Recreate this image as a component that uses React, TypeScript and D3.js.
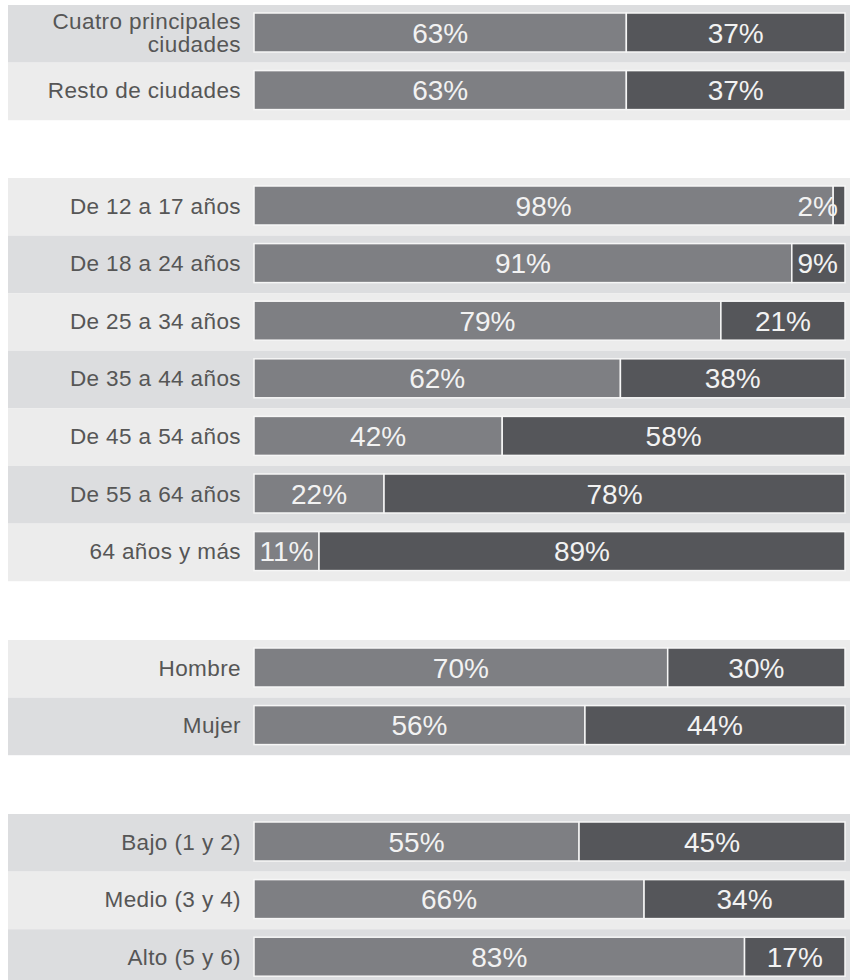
import React from "react";
import * as d3 from "d3";

// ---- Data ----
const group1Categories = ["Cuatro principales\nciudades", "Resto de ciudades"];
const group1First = [63, 63];
const group1Second = [37, 37];

const group2Categories = [
  "De 12 a 17 años",
  "De 18 a 24 años",
  "De 25 a 34 años",
  "De 35 a 44 años",
  "De 45 a 54 años",
  "De 55 a 64 años",
  "64 años y más",
];
const group2First = [98, 91, 79, 62, 42, 22, 11];
const group2Second = [2, 9, 21, 38, 58, 78, 89];

const group3Categories = ["Hombre", "Mujer"];
const group3First = [70, 56];
const group3Second = [30, 44];

const group4Categories = ["Bajo (1 y 2)", "Medio (3 y 4)", "Alto (5 y 6)"];
const group4First = [55, 66, 83];
const group4Second = [45, 34, 17];

// ---- Layout / style ----
const W = 857;
const H = 980;
const PITCH = 57.6;
const BAR_OFF = 8;
const BAR_H = 39;
const BAND_X0 = 8;
const BAND_X1 = 850;
const LABEL_X = 241;
const LIGHT_BAND = "#ececec";
const DARK_BAND = "#dcdddf";
const FIRST_COLOR = "#7e7f83";
const SECOND_COLOR = "#55565a";
const CAT_FS = 22.5;
const VAL_FS = 28;
const FONT = "'Liberation Sans', Arial, Helvetica, sans-serif";

const groups = [
  { cats: group1Categories, a: group1First, b: group1Second, y0: 5, bands: [DARK_BAND, LIGHT_BAND] },
  {
    cats: group2Categories,
    a: group2First,
    b: group2Second,
    y0: 178,
    bands: [LIGHT_BAND, DARK_BAND, LIGHT_BAND, DARK_BAND, LIGHT_BAND, DARK_BAND, LIGHT_BAND],
  },
  { cats: group3Categories, a: group3First, b: group3Second, y0: 640, bands: [LIGHT_BAND, DARK_BAND] },
  { cats: group4Categories, a: group4First, b: group4Second, y0: 814, bands: [DARK_BAND, LIGHT_BAND, DARK_BAND] },
];

const x = d3.scaleLinear().domain([0, 100]).range([254, 845]);

function textWidth(s: string, fs: number) {
  let w = 0;
  for (const ch of s) w += ch === "%" ? 0.889 : 0.556;
  return w * fs;
}

function valueX(x0: number, x1: number, label: string) {
  const w = textWidth(label, VAL_FS);
  const c = (x0 + x1) / 2;
  const lo = x.range()[0] + 4 + w / 2;
  const hi = x.range()[1] - 7 - w / 2;
  return Math.max(lo, Math.min(hi, c));
}

export default function App() {
  return (
    <svg
      width={W}
      height={H}
      style={{ position: "absolute", left: 0, top: 0, display: "block", background: "#fff" }}
      fontFamily={FONT}
    >
      {groups.map((g, gi) => {
        const y = d3
          .scaleBand<number>()
          .domain(d3.range(g.cats.length))
          .range([g.y0, g.y0 + g.cats.length * PITCH])
          .padding(0);
        return (
          <g key={gi}>
            {g.cats.map((cat, i) => {
              const by = y(i)!;
              const barY = by + BAR_OFF;
              const cy = barY + BAR_H / 2;
              const xa0 = x(0);
              const xa1 = x(g.a[i]);
              const xb1 = x(g.a[i] + g.b[i]);
              const lines = cat.split("\n");
              const la = `${g.a[i]}%`;
              const lb = `${g.b[i]}%`;
              return (
                <g key={i}>
                  <rect x={BAND_X0} y={by} width={BAND_X1 - BAND_X0} height={y.bandwidth()} fill={g.bands[i]} />
                  <rect
                    x={xa0}
                    y={barY}
                    width={xa1 - xa0}
                    height={BAR_H}
                    fill={FIRST_COLOR}
                    stroke="#f6f6f6"
                    strokeWidth={1.5}
                  />
                  <rect
                    x={xa1}
                    y={barY}
                    width={xb1 - xa1}
                    height={BAR_H}
                    fill={SECOND_COLOR}
                    stroke="#f6f6f6"
                    strokeWidth={1.5}
                  />
                  {lines.map((ln, li) => (
                    <text
                      key={li}
                      x={LABEL_X}
                      y={cy + CAT_FS * 0.36 + (li - (lines.length - 1) / 2) * 23}
                      textAnchor="end"
                      fontSize={CAT_FS}
                      letterSpacing={0.4}
                      fill="#565656"
                    >
                      {ln}
                    </text>
                  ))}
                  <text
                    x={valueX(xa0, xa1, la)}
                    y={cy + VAL_FS * 0.36}
                    textAnchor="middle"
                    fontSize={VAL_FS}
                    fill="#f2f2f2"
                  >
                    {la}
                  </text>
                  <text
                    x={valueX(xa1, xb1, lb)}
                    y={cy + VAL_FS * 0.36}
                    textAnchor="middle"
                    fontSize={VAL_FS}
                    fill="#f2f2f2"
                  >
                    {lb}
                  </text>
                </g>
              );
            })}
          </g>
        );
      })}
    </svg>
  );
}
